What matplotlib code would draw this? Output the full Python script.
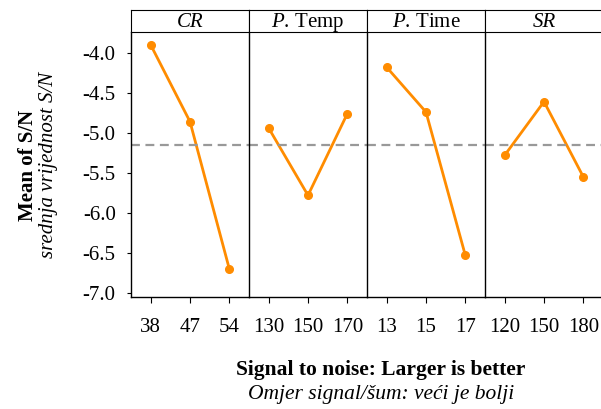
import matplotlib.pyplot as plt

plt.rcParams['font.family'] = ['Liberation Serif', 'DejaVu Serif']
plt.rcParams['mathtext.fontset'] = 'custom'
plt.rcParams['mathtext.rm'] = 'Liberation Serif'
plt.rcParams['mathtext.it'] = 'Liberation Serif:italic'

factors = ['CR', 'P. Temp', 'P. Time', 'SR']
levels = [['38', '47', '54'], ['130', '150', '170'], ['13', '15', '17'], ['120', '150', '180']]
sn_means = [
    [-3.90, -4.86, -6.70],
    [-4.94, -5.78, -4.76],
    [-4.18, -4.74, -6.53],
    [-5.28, -4.61, -5.55],
]
overall_mean = -5.15
yticks = [-4.0, -4.5, -5.0, -5.5, -6.0, -6.5, -7.0]

fig = plt.figure(figsize=(6.01, 4.09), dpi=100)
W, H = 601, 409
left, right = 131, 603
top_hdr, bot_hdr, bottom = 10, 32, 297
pw = (right - left) / 4

orange = '#FF8C00'
for i in range(4):
    x0 = left + i * pw
    ax = fig.add_axes([x0 / W, 1 - bottom / H, pw / W, (bottom - bot_hdr) / H])
    xs = [1, 2, 3]
    ax.plot(xs, sn_means[i], color=orange, lw=2, marker='o', ms=5.5)
    ax.axhline(overall_mean, color='#999999', lw=1.6, ls=(0, (4, 2.5)))
    ax.set_xlim(0.5, 3.5)
    ax.set_ylim(-7.05, -3.74)
    ax.set_xticks(xs)
    ax.set_xticklabels(levels[i], fontsize=15)
    ax.tick_params(axis='x', direction='out', length=4, pad=11)
    ax.spines['top'].set_visible(False)
    ax.spines['right'].set_visible(False)
    for s in ax.spines.values():
        s.set_linewidth(1.0)
    if i == 0:
        ax.set_yticks(yticks)
        ax.set_yticklabels([f'{v:.1f}' for v in yticks], fontsize=15)
        ax.tick_params(axis='y', direction='out', length=3, pad=8)
    else:
        ax.set_yticks([])
    # header strip
    hx = fig.add_axes([x0 / W, 1 - bot_hdr / H, pw / W, (bot_hdr - top_hdr) / H])
    hx.set_xticks([])
    hx.set_yticks([])
    hx.spines['right'].set_visible(i < 3)
    name = factors[i]
    if name.startswith('P. '):
        label = r'$\it{P}$. ' + name[3:]
        hx.text(0.5, 0.42, label, transform=hx.transAxes, ha='center', va='center', fontsize=15)
    else:
        hx.text(0.5, 0.42, name, transform=hx.transAxes, ha='center', va='center',
                fontsize=15, style='italic')

fig.text(28 / W, 1 - 165 / H, 'Mean of S/N', rotation=90, ha='center', va='center',
         fontsize=15, fontweight='bold')
fig.text(49 / W, 1 - 165 / H, 'srednja vrijednost S/N', rotation=90, ha='center', va='center',
         fontsize=15, style='italic')
fig.text(381 / W, 1 - 370 / H, 'Signal to noise: Larger is better', ha='center', va='center',
         fontsize=15.5, fontweight='bold')
fig.text(381 / W, 1 - 395 / H, 'Omjer signal/šum: veći je bolji', ha='center', va='center',
         fontsize=15.5, style='italic')

fig.savefig('out.png', dpi=100)
